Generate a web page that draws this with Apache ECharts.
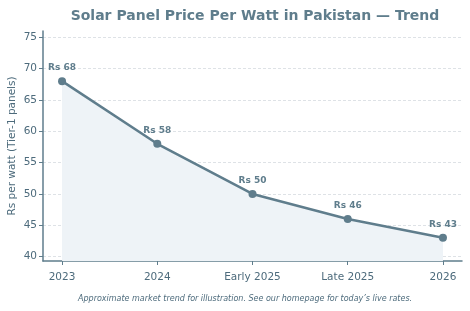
<!DOCTYPE html>
<html><head><meta charset="utf-8">
<script src="https://cdn.jsdelivr.net/npm/echarts@6/dist/echarts.min.js"></script>
<style>html,body{margin:0;padding:0;background:#fff}#c{width:470px;height:311px}</style>
</head><body><div id="c"></div>
<script>
const categories = ["2023", "2024", "Early 2025", "Late 2025", "2026"];
const prices = [68, 58, 50, 46, 43];
const yTicks = [40, 45, 50, 55, 60, 65, 70, 75];
const xTicks = [0, 1, 2, 3, 4];

const chart = echarts.init(document.getElementById('c'), null, {renderer: 'canvas'});
const lineColor = '#5f7d8c';
const textColor = '#4d6b7c';
chart.setOption({
  animation: false,
  backgroundColor: '#ffffff',
  title: {
    text: 'Solar Panel Price Per Watt in Pakistan — Trend',
    left: 250, top: 4, textAlign: 'center',
    textStyle: {fontFamily: 'DejaVu Sans', fontSize: 14, fontWeight: 'bold', color: '#5f7d8c'}
  },
  graphic: [{
    type: 'text', left: 78, top: 295,
    style: {text: 'Approximate market trend for illustration. See our homepage for today\u2019s live rates.',
      font: 'italic 8px "DejaVu Sans"', fill: '#4d6b7c'}
  }],
  grid: {left: 43, right: 8, top: 31, bottom: 50, containLabel: false, outerBoundsMode: 'none'},
  xAxis: {
    type: 'value', min: -0.2, max: 4.2,
    axisLine: {show: true, onZero: false, lineStyle: {color: '#5f7d8c', width: 1.5}},
    axisTick: {show: true, length: 4, lineStyle: {color: '#5f7d8c'}, customValues: xTicks},
    splitLine: {show: false},
    axisLabel: {
      color: textColor, fontFamily: 'DejaVu Sans', fontSize: 10.5, margin: 11,
      customValues: xTicks,
      formatter: v => categories[Math.round(v)]
    }
  },
  yAxis: {
    type: 'value', min: 39.3, max: 76,
    name: 'Rs per watt (Tier-1 panels)', nameLocation: 'middle', nameGap: 25, nameMoveOverlap: false,
    nameTextStyle: {color: textColor, fontFamily: 'DejaVu Sans', fontSize: 10.5},
    axisLine: {show: true, onZero: false, lineStyle: {color: '#5f7d8c', width: 1.5}},
    axisTick: {show: true, length: 4, lineStyle: {color: '#5f7d8c'}, customValues: yTicks},
    axisLabel: {color: textColor, fontFamily: 'DejaVu Sans', fontSize: 10.5, margin: 6, customValues: yTicks},
    splitLine: {show: true, lineStyle: {color: '#d5dbe0', type: [3, 2], width: 0.8}},
    splitNumber: 7
  },
  series: [{
    type: 'line',
    data: prices.map((p, i) => [i, p]),
    lineStyle: {color: lineColor, width: 2.5},
    itemStyle: {color: lineColor},
    symbol: 'circle', symbolSize: 8,
    areaStyle: {color: '#eef3f7', origin: 'start', opacity: 1},
    label: {
      show: true, position: 'top', distance: 5,
      formatter: p => 'Rs ' + p.value[1],
      color: lineColor, fontFamily: 'DejaVu Sans', fontSize: 9, fontWeight: 'bold'
    }
  }]
});
</script></body></html>
